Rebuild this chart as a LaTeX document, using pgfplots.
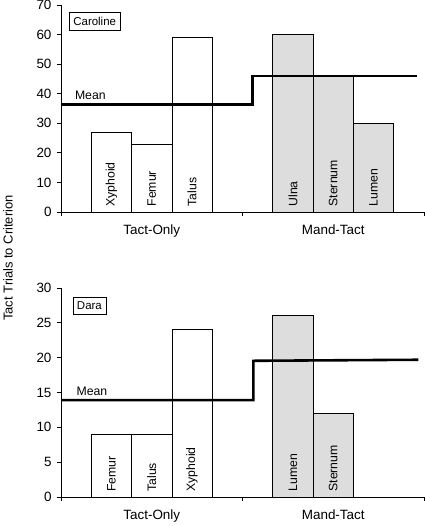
\documentclass[border=0pt]{standalone}
\usepackage{fontspec}
\setmainfont{Liberation Sans}
\usepackage{pgfplots}
\pgfplotsset{compat=1.18}
\usepackage{pgfplotstable}

\pgfplotstableread{
x y label
1.25 27 Xyphoid
2.25 23 Femur
3.25 59 Talus
}\carA
\pgfplotstableread{
x y label
5.75 60 Ulna
6.75 46 Sternum
7.75 30 Lumen
}\carB
\pgfplotstableread{
x y label
1.25 9 Femur
2.25 9 Talus
3.25 24 Xyphoid
}\darA
\pgfplotstableread{
x y label
5.75 26 Lumen
6.75 12 Sternum
}\darB

\tikzset{
  namebox/.style={draw, line width=0.6pt, anchor=north west, inner xsep=4bp, inner ysep=4.5bp,
      font=\fontsize{11.5}{13}\selectfont},
}

\pgfplotsset{
  panel/.style={
    scale only axis, width=363bp,
    xmin=0, xmax=9, ymin=0,
    axis x line=bottom, axis y line=left,
    axis line style={-, line width=0.8pt},
    tick style={line width=0.8pt, black},
    tick align=outside, major tick length=4bp,
    xtick={0,4.5,9}, xticklabels={},
    extra x ticks={2.25,6.75},
    extra x tick labels={Tact-Only, Mand-Tact},
    extra x tick style={major tick length=0pt, tick style={draw=none},
      xticklabel style={yshift=-9bp}},
    /pgf/number format/assume math mode=true,
    ticklabel style={font=\fontsize{13.5}{15}\selectfont},
    yticklabel style={xshift=-2bp},
    clip=false,
  },
  whitebar/.style={ybar, bar width=1, bar shift=0pt, fill=white, draw=black, line width=0.8pt},
  graybar/.style={ybar, bar width=1, bar shift=0pt, fill=gray!27, draw=black, line width=0.8pt},
  barlab/.style={draw=none, mark=none, nodes near coords, point meta=explicit symbolic,
    nodes near coords style={rotate=90, anchor=west, inner sep=0pt, xshift=0bp, yshift=0pt,
      font=\fontsize{12.3}{14}\selectfont}},
}

\begin{document}
\begin{tikzpicture}
\useasboundingbox (0,0) rectangle (425bp,526bp);

\begin{axis}[panel, at={(61bp,314bp)}, anchor=south west, height=207bp, ymax=70, ytick={0,10,...,70}]
\addplot[whitebar] table[x=x,y=y] {\carA};
\addplot[graybar] table[x=x,y=y] {\carB};
\addplot[barlab] table[x=x, y expr=1.8, meta=label] {\carA};
\addplot[barlab] table[x=x, y expr=1.8, meta=label] {\carB};
\addplot[black, line width=2.6pt] coordinates {(0,36.3) (4.75,36.3) (4.75,46) (8.83,46)};
\node[anchor=base west, font=\fontsize{12.3}{14}\selectfont] at (axis cs:0.26,38.1) {Mean};
\node[namebox] at (axis cs:0.2,67.5) {Caroline};
\end{axis}

\begin{axis}[panel, at={(61bp,29bp)}, anchor=south west, height=209bp, ymax=30, ytick={0,5,...,30}]
\addplot[whitebar] table[x=x,y=y] {\darA};
\addplot[graybar] table[x=x,y=y] {\darB};
\addplot[barlab] table[x=x, y expr=0.75, meta=label] {\darA};
\addplot[barlab] table[x=x, y expr=0.75, meta=label] {\darB};
\addplot[black, line width=2.6pt] coordinates {(0,13.9) (4.77,13.9) (4.77,19.55) (8.86,19.7)};
\node[anchor=base west, font=\fontsize{12.3}{14}\selectfont] at (axis cs:0.3,14.6) {Mean};
\node[namebox] at (axis cs:0.29,28.7) {Dara};
\end{axis}

\node[rotate=90, font=\fontsize{13}{15}\selectfont] at (8bp,268bp) {Tact Trials to Criterion};
\end{tikzpicture}
\end{document}
